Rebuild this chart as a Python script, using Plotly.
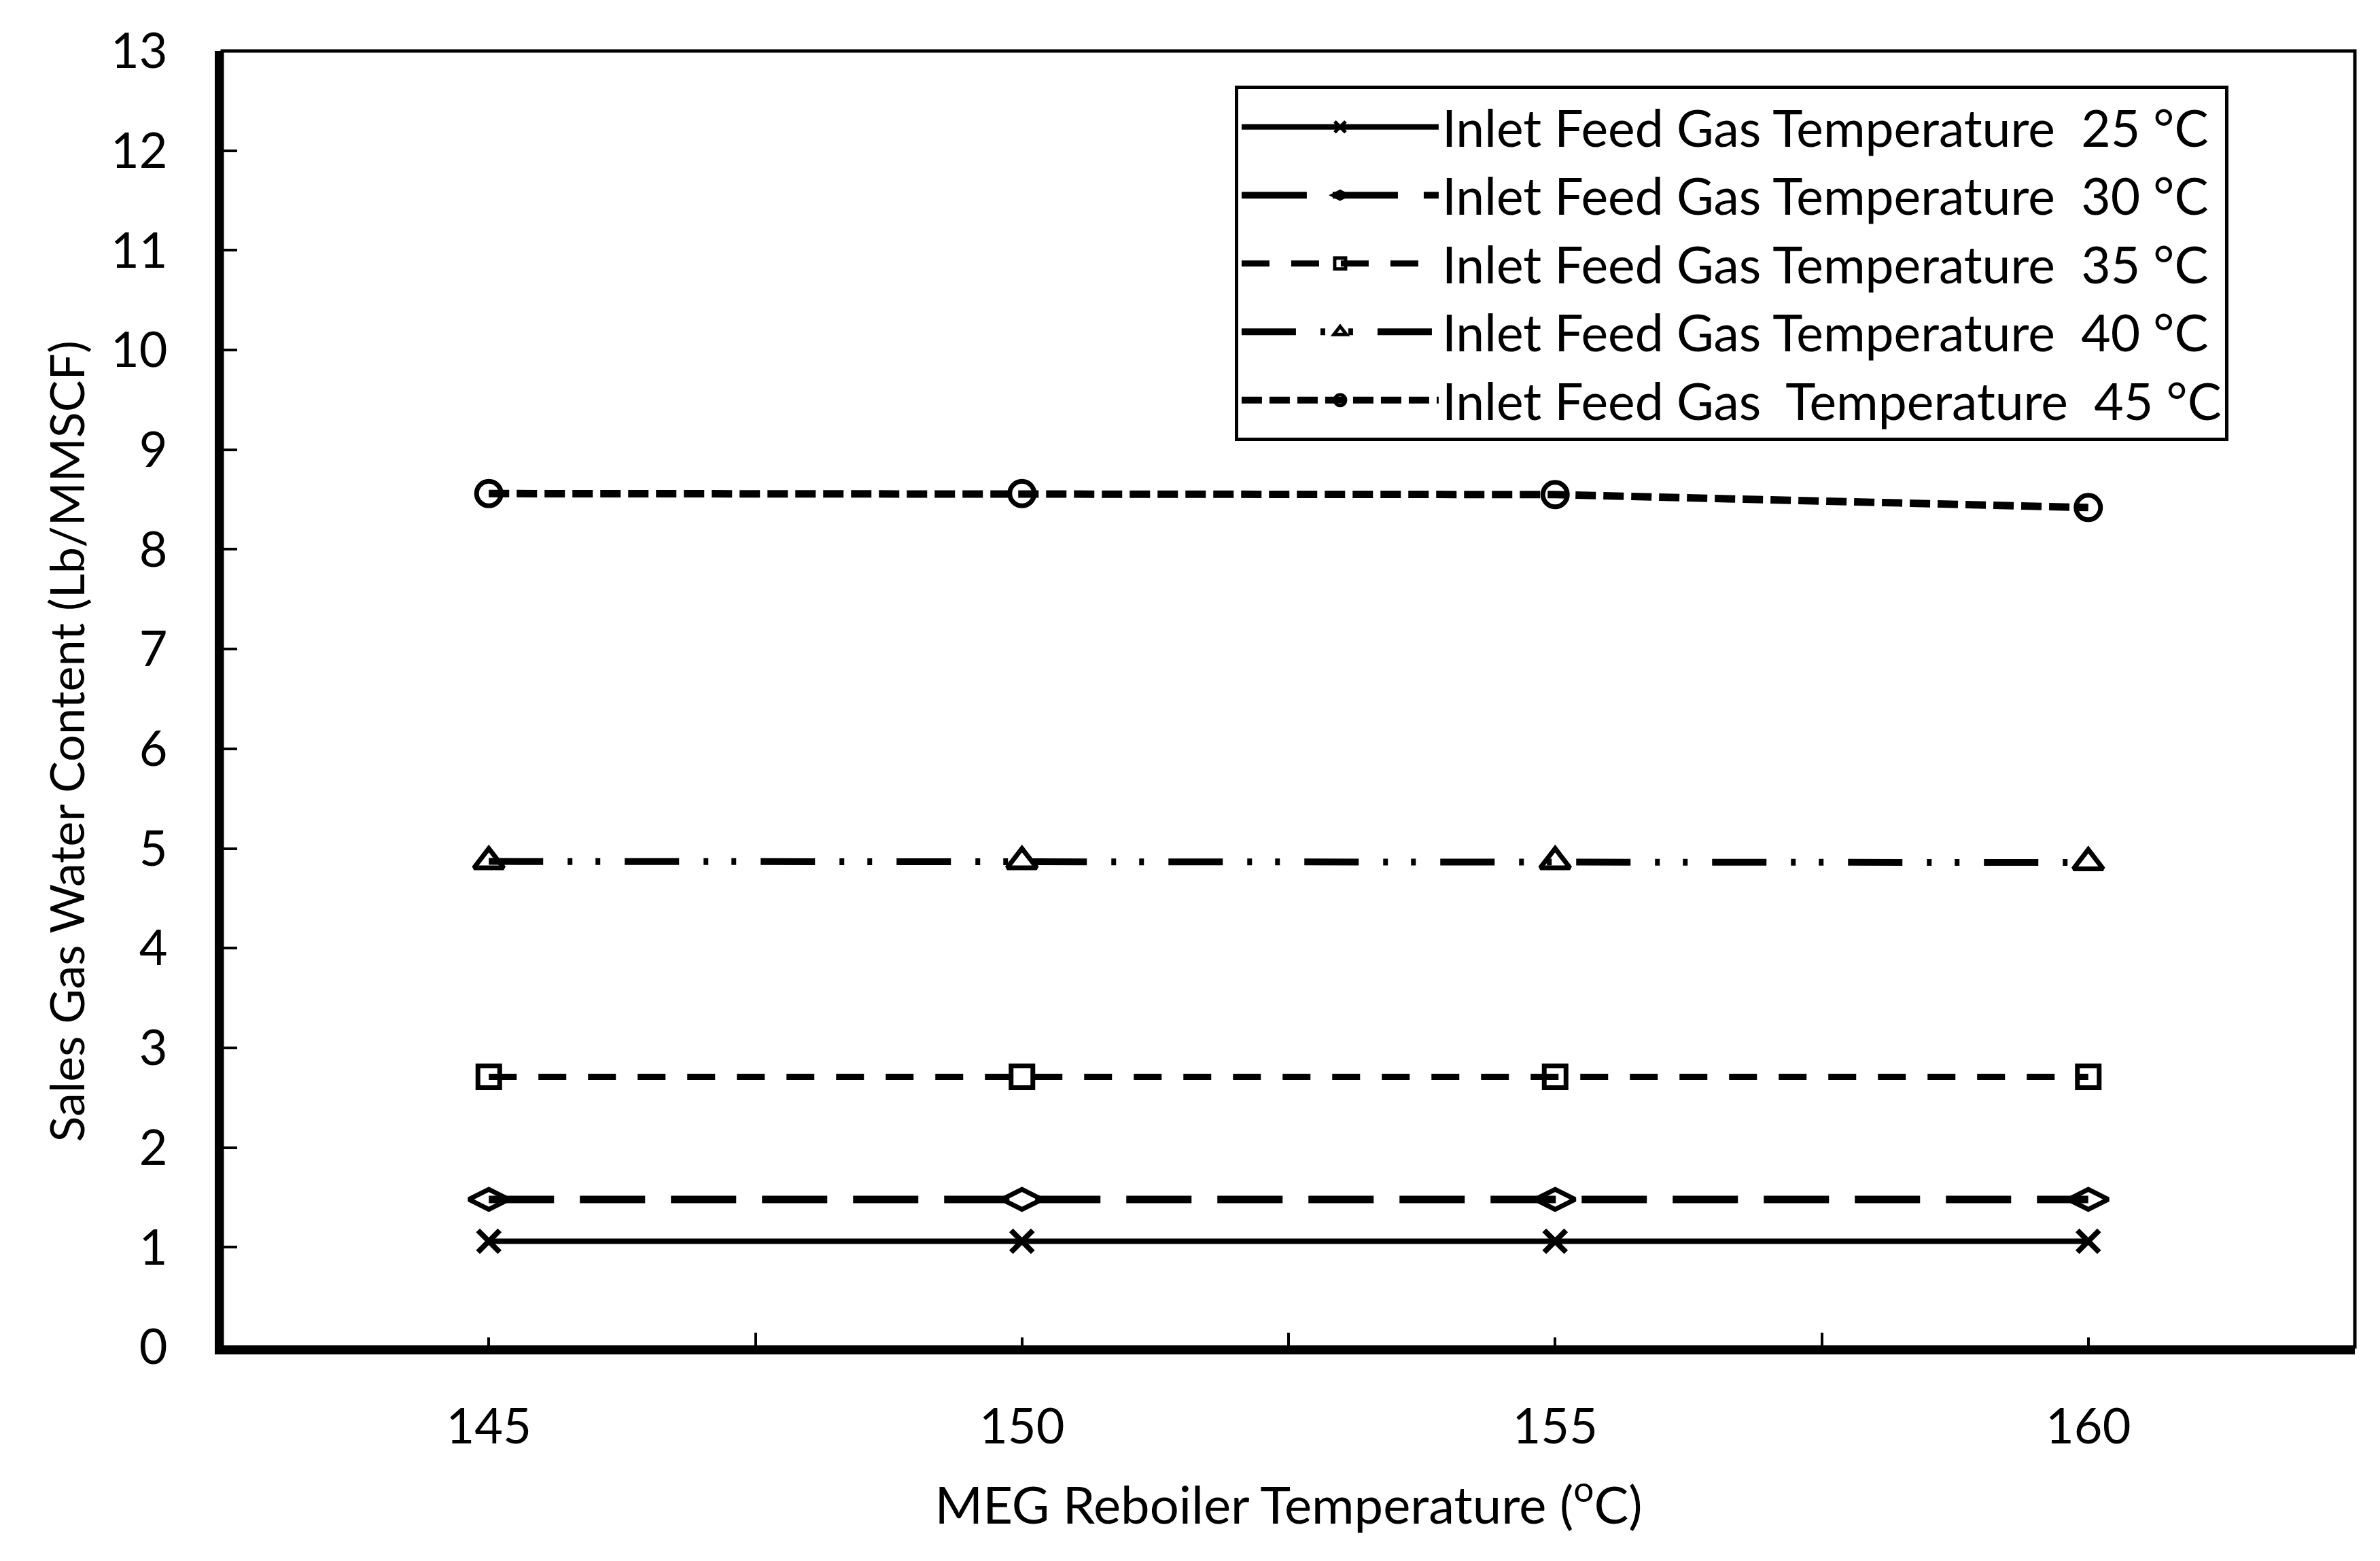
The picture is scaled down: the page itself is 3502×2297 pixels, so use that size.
import plotly.graph_objects as go

# ---- data ----
reboiler_temp = [145, 150, 155, 160]
wc_25 = [1.06, 1.06, 1.06, 1.06]
wc_30 = [1.48, 1.48, 1.48, 1.48]
wc_35 = [2.71, 2.71, 2.71, 2.71]
wc_40 = [4.87, 4.87, 4.87, 4.86]
wc_45 = [8.56, 8.56, 8.55, 8.42]

names = [
    "Inlet Feed Gas Temperature \u00a025 °C",
    "Inlet Feed Gas Temperature \u00a030 °C",
    "Inlet Feed Gas Temperature \u00a035 °C",
    "Inlet Feed Gas Temperature \u00a040 °C",
    "Inlet Feed Gas \u00a0Temperature \u00a045 °C",
]
x_ticks = [145, 150, 155, 160]
x_minor = [147.5, 152.5, 157.5]
y_ticks = list(range(0, 14))

FONT = "Lato"
fig = go.Figure()

styles = [
    dict(series=wc_25, dash="solid", width=8, symbol="x-thin", msize=32, mlw=8),
    dict(series=wc_30, dash="96px,38px", width=11, symbol="diamond-wide-open", msize=42, mlw=7),
    dict(series=wc_35, dash="41px,32px", width=9, symbol="square-open", msize=32, mlw=7),
    dict(series=wc_40, dash="80px,36px,7px,34px,7px,36px", width=10, symbol="triangle-up-open", msize=38, mlw=7),
    dict(series=wc_45, dash="30px,11px", width=11, symbol="circle-open", msize=36, mlw=7),
]

for name, st in zip(names, styles):
    fig.add_trace(go.Scatter(
        x=reboiler_temp, y=st["series"], name=name, mode="lines+markers",
        line=dict(color="black", width=st["width"], dash=st["dash"]),
        marker=dict(symbol=st["symbol"], size=st["msize"], color="black",
                    line=dict(color="black", width=st["mlw"])),
    ))

fig.update_layout(
    width=3502, height=2297,
    margin=dict(l=319, r=45, t=67, b=323),
    paper_bgcolor="white", plot_bgcolor="white",
    font=dict(family=FONT, size=70, color="black"),
    showlegend=True,
    legend=dict(
        x=0.4748, y=0.973, xanchor="left", yanchor="top",
        bordercolor="black", borderwidth=5, bgcolor="white",
        font=dict(family=FONT, size=75, color="black"),
        itemwidth=290, tracegroupgap=0,
    ),
    shapes=[dict(type="rect", xref="paper", yref="paper", x0=0, x1=1, y0=0, y1=1,
                 line=dict(color="black", width=5), layer="above")],
    annotations=[dict(
        text="Sales Gas Water Content (Lb/MMSCF)", textangle=-90,
        xref="paper", yref="paper", x=0, y=0.467, xanchor="center", yanchor="middle",
        xshift=-230, showarrow=False, font=dict(family=FONT, size=70, color="black"),
    )],
)

fig.update_xaxes(
    range=[142.5, 162.5], tickvals=x_ticks, ticktext=[str(v) for v in x_ticks],
    ticks="inside", ticklen=14, tickwidth=4, tickcolor="black",
    minor=dict(tickvals=x_minor, ticks="inside", ticklen=21, tickwidth=4, tickcolor="black", showgrid=False),
    showline=True, linewidth=11, linecolor="black", showgrid=False, zeroline=False,
    tickfont=dict(family=FONT, size=72), ticklabelstandoff=45,
    title=dict(text="MEG Reboiler Temperature (<sup>o</sup>C)", font=dict(family=FONT, size=76), standoff=55),
)
fig.update_yaxes(
    range=[0, 13], tickvals=y_ticks, ticks="inside", ticklen=22, tickwidth=4, tickcolor="black",
    showline=True, linewidth=11, linecolor="black", showgrid=False, zeroline=False,
    tickfont=dict(family=FONT, size=72), ticklabelstandoff=55,
)

fig.write_html("out.html")
